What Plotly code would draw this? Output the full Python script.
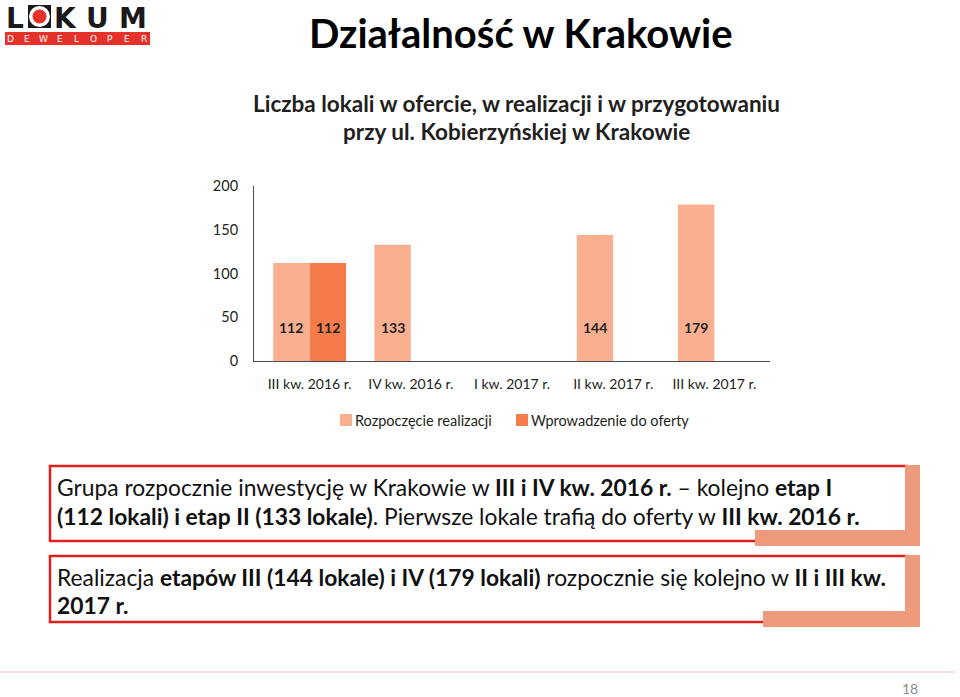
import plotly.graph_objects as go

# ---------------- data ----------------
categories = ["III kw. 2016 r.", "IV kw. 2016 r.", "I kw. 2017 r.", "II kw. 2017 r.", "III kw. 2017 r."]
rozpoczecie = [112, 133, None, 144, 179]
wprowadzenie = [112, None, None, None, None]
series_names = ["Rozpoczęcie realizacji", "Wprowadzenie do oferty"]
y_ticks = [0, 50, 100, 150, 200]

title_text = "Działalność w Krakowie"
subtitle_lines = ["Liczba lokali w ofercie, w realizacji i w przygotowaniu",
                  "przy ul. Kobierzyńskiej w Krakowie"]
box1_lines = ["Grupa rozpocznie inwestycję w Krakowie w <b>III i IV kw. 2016 r.</b> – kolejno <b>etap I</b>",
              "<b>(112 lokali) i etap II (133 lokale)</b>. Pierwsze lokale trafią do oferty w <b>III kw. 2016 r.</b>"]
box2_lines = ["Realizacja <b>etapów III (144 lokale) i IV (179 lokali)</b> rozpocznie się kolejno w <b>II i III kw.</b>",
              "<b>2017 r.</b>"]
page_number = "18"

# ---------------- layout geometry ----------------
W, H = 960, 697
L, R, T, B = 254, 770, 186, 361
BARGAP = 0.28
LIGHT = "#F9AF90"
DARK = "#F57B4A"
RED = "#E1201F"
SALMON = "#EE9A7C"
CHART_FONT = "Lato"
TEXT_FONT = "Lato"
INK = "#231F20"


def px(x):
    return (x - L) / (R - L)


def py(y):
    return (B - y) / (B - T)


fig = go.Figure()
colors = [LIGHT, DARK]
for name, vals, col in zip(series_names, [rozpoczecie, wprowadzenie], colors):
    fig.add_trace(go.Bar(x=categories, y=vals, name=name, showlegend=False,
                         marker=dict(color=col, line=dict(width=0))))

annotations = []
shapes = []


def note(x, y, text, size, color=INK, family=TEXT_FONT, xanchor="center", ref="paper", height=None):
    a = dict(x=x, y=y, xref=ref if ref == "paper" else "x", yref=ref if ref == "paper" else "y",
             text=text, showarrow=False, xanchor=xanchor, yanchor="middle",
             font=dict(family=family, size=size, color=color))
    if height is not None:
        a["height"] = height
    annotations.append(a)


# value labels inside bars (fixed height near base)
label_y = 38
half = (1 - BARGAP) / 4
for series, shift in ((rozpoczecie, -half), (wprowadzenie, half)):
    for i, v in enumerate(series):
        if v is None:
            continue
        note(i + shift, label_y, f"<b>{v}</b>", 14, ref="data", family=CHART_FONT)

# manual legend
legend_x = [340, 516]
for name, col, lx in zip(series_names, colors, legend_x):
    shapes.append(dict(type="rect", xref="paper", yref="paper", x0=px(lx), x1=px(lx + 12),
                       y0=py(426), y1=py(414), fillcolor=col, line=dict(width=0)))
    note(px(lx + 13), py(420), name, 14.5, family=CHART_FONT, xanchor="left")

# title and subtitle
note(px(521), py(33), f"<b>{title_text}</b>", 40, color="#000000")
for k, line in enumerate(subtitle_lines):
    note(px(516), py(104 + 27.5 * k), f"<b>{line}</b>", 22.5)

# thin decorative line near footer
shapes.append(dict(type="line", xref="paper", yref="paper", x0=px(0), x1=px(955), y0=py(672), y1=py(672),
                   line=dict(color="#F0C0C4", width=1)))


def add_box(x0, y0, x1, y1, sx0, lines, line_ys):
    shapes.append(dict(type="rect", xref="paper", yref="paper", x0=px(x0), x1=px(x1), y0=py(y1), y1=py(y0),
                       fillcolor="white", line=dict(color=RED, width=2.5), layer="above"))
    shapes.append(dict(type="rect", xref="paper", yref="paper", x0=px(x1 - 2), x1=px(920), y0=py(y1 + 5),
                       y1=py(y0 - 1), fillcolor=SALMON, line=dict(width=0), layer="above"))
    shapes.append(dict(type="rect", xref="paper", yref="paper", x0=px(sx0), x1=px(920), y0=py(y1 + 5),
                       y1=py(y1 - 11), fillcolor=SALMON, line=dict(width=0), layer="above"))
    for line, ly in zip(lines, line_ys):
        note(px(55), py(ly), line, 22.8, color="#111111", xanchor="left")


add_box(50, 466, 907, 541, 755, box1_lines, [487, 516])
add_box(50, 556, 907, 622, 763, box2_lines, [577, 605])

# logo
shapes.append(dict(type="rect", xref="paper", yref="paper", x0=px(5), x1=px(150), y0=py(45), y1=py(32),
                   fillcolor="#E4322B", line=dict(width=0)))
shapes.append(dict(type="rect", xref="paper", yref="paper", x0=px(28), x1=px(51), y0=py(28), y1=py(5),
                   fillcolor="#1A1A1A", line=dict(width=0)))
shapes.append(dict(type="circle", xref="paper", yref="paper", x0=px(29), x1=px(50), y0=py(27), y1=py(6),
                   fillcolor="white", line=dict(width=0)))
shapes.append(dict(type="circle", xref="paper", yref="paper", x0=px(32.5), x1=px(46.5), y0=py(23.5), y1=py(9.5),
                   fillcolor="#E4322B", line=dict(width=0)))
for ch, cx in (("L", 15), ("K", 65.5), ("U", 97.5), ("M", 132.5)):
    note(px(cx), py(18), f"<b>{ch}</b>", 28, color="#1A1A1A", family="DejaVu Sans", height=24)
logo_letters = "DEWELOPER"
for k, ch in enumerate(logo_letters):
    note(px(10 + k * 16.7), py(38.5), ch, 9, color="white", family="DejaVu Sans", height=11)

note(px(910), py(688), page_number, 14, color="#8C8C8C", height=16)

fig.update_layout(
    width=W, height=H,
    margin=dict(l=L, r=W - R, t=T, b=H - B, pad=0),
    paper_bgcolor="white", plot_bgcolor="white",
    barmode="group", bargap=BARGAP, bargroupgap=0,
    font=dict(family=CHART_FONT, size=14, color=INK),
    showlegend=False,
    xaxis=dict(type="category", range=[-0.55, 4.55], showline=True, linecolor="#4D4D4D", linewidth=1,
               showgrid=False, zeroline=False, ticks="", ticklabelstandoff=10,
               tickfont=dict(family=CHART_FONT, size=14, color=INK)),
    yaxis=dict(range=[0, 200], tickvals=y_ticks, showline=True, linecolor="#4D4D4D", linewidth=1,
               showgrid=False, zeroline=False, ticks="", ticklabelstandoff=12,
               tickfont=dict(family=CHART_FONT, size=14.5, color=INK)),
    annotations=annotations,
    shapes=shapes,
)

fig.write_html("out.html")
